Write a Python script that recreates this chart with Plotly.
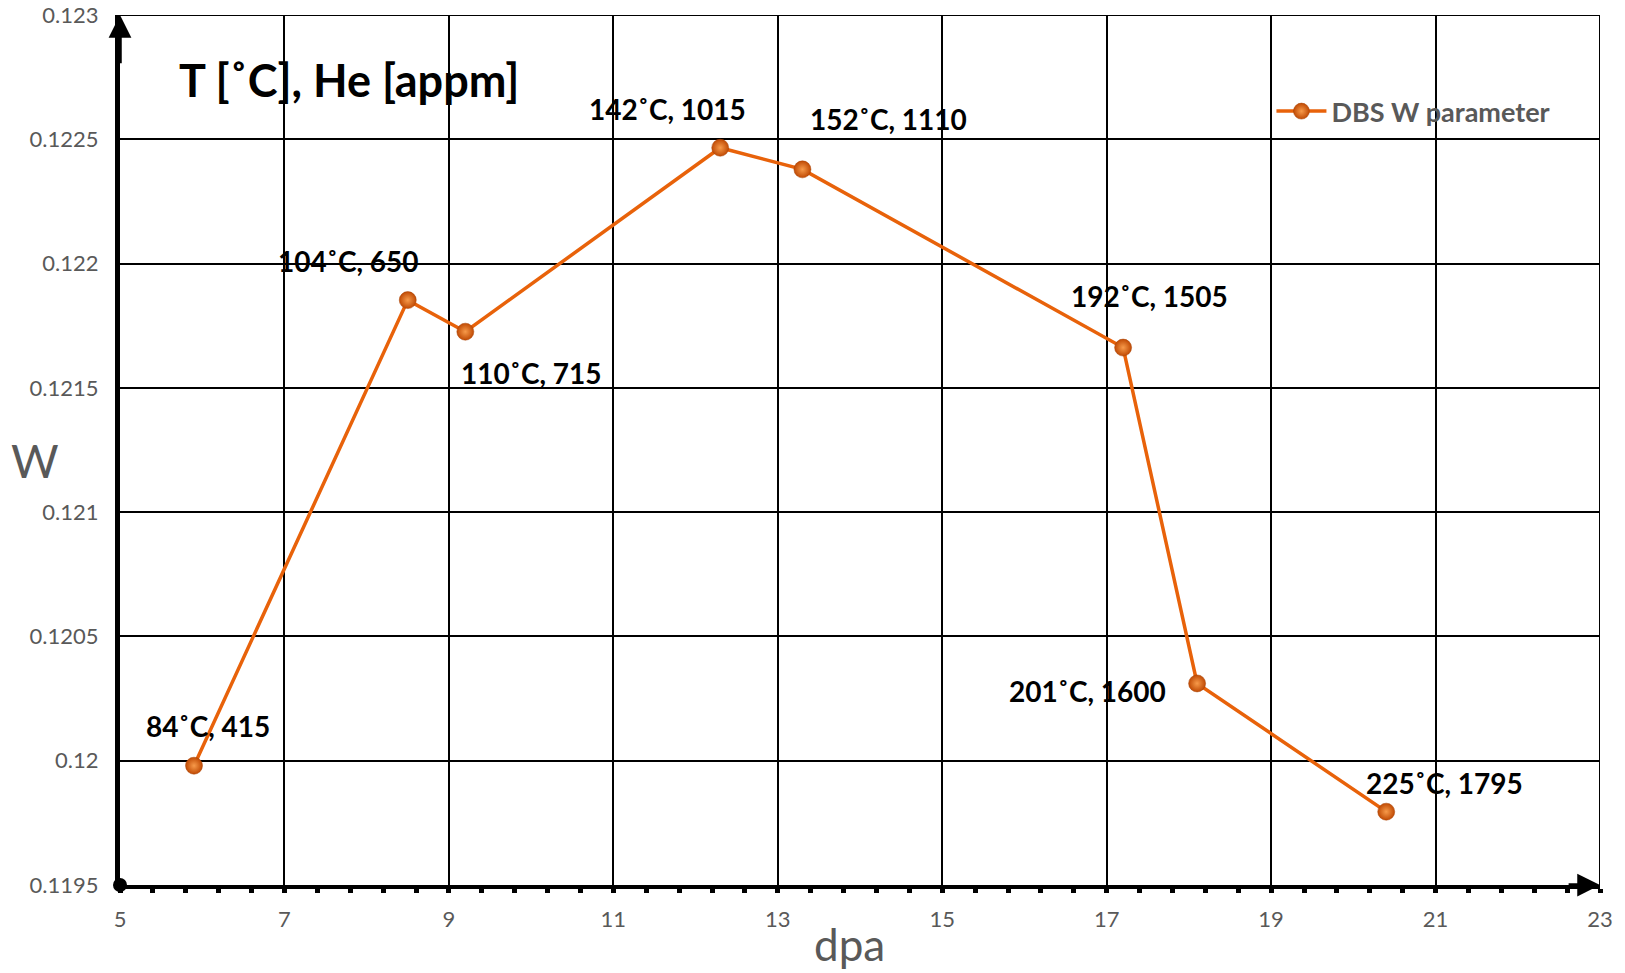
import plotly.graph_objects as go

# DBS W parameter versus damage dose
dpa = [5.9, 8.5, 9.2, 12.3, 13.3, 17.2, 18.1, 20.4]
w_param = [0.11998, 0.121853, 0.121726, 0.122466, 0.122379, 0.121662, 0.120311, 0.119795]
temp_c = [84, 104, 110, 142, 152, 192, 201, 225]
he_appm = [415, 650, 715, 1015, 1110, 1505, 1600, 1795]

x_ticks = [5, 7, 9, 11, 13, 15, 17, 19, 21, 23]
y_ticks = [0.1195, 0.12, 0.1205, 0.121, 0.1215, 0.122, 0.1225, 0.123]
y_ticktext = ["0.1195", "0.12", "0.1205", "0.121", "0.1215", "0.122", "0.1225", "0.123"]

# label offsets (pixels) from each point
label_dx = [14, -59, 66, -53, 86, 26, -110, 58]
label_dy = [40, 39, -41, 39, 50, 52, -8, 29]

FONT = "Lato, 'Open Sans', sans-serif"
GRAY = "#595959"
ORANGE = "#E8620A"

fig = go.Figure()

fig.add_trace(go.Scatter(
    x=dpa, y=w_param, mode="lines+markers", name="DBS W parameter",
    line=dict(color=ORANGE, width=3.5),
    marker=dict(size=17, color="#C04A04",
                gradient=dict(type="radial", color="#F79A4A"),
                line=dict(color="#A84204", width=0.5)),
    cliponaxis=False,
))

# origin dot
fig.add_trace(go.Scatter(
    x=[x_ticks[0]], y=[y_ticks[0]], mode="markers", showlegend=False,
    marker=dict(size=14, color="black"), cliponaxis=False, hoverinfo="skip",
))

annotations = []
for x, y, t, h, dx, dy in zip(dpa, w_param, temp_c, he_appm, label_dx, label_dy):
    annotations.append(dict(
        x=x, y=y, xref="x", yref="y", text=f"{t}˚C, {h}", showarrow=False,
        xshift=dx, yshift=dy,
        font=dict(family=FONT, size=28, color="black", weight="bold"),
    ))

annotations.append(dict(
    x=0.0385, y=0.925, xref="paper", yref="paper", xanchor="left", yanchor="middle",
    text="T [˚C], He [appm]", showarrow=False,
    font=dict(family=FONT, size=45, color="black", weight="bold"),
))

# axis arrows
annotations.append(dict(
    x=23, y=0.1195, ax=22.6, ay=0.1195, xref="x", yref="y", axref="x", ayref="y",
    text="", showarrow=True, arrowhead=2, arrowsize=1.3, arrowwidth=3.5, arrowcolor="black",
))
annotations.append(dict(
    x=5, y=0.123, ax=5, ay=0.1228, xref="x", yref="y", axref="x", ayref="y",
    text="", showarrow=True, arrowhead=2, arrowsize=1.3, arrowwidth=3.5, arrowcolor="black",
))

# axis titles
annotations.append(dict(
    x=-0.0574, y=0.4885, xref="paper", yref="paper", text="W", showarrow=False,
    xanchor="center", yanchor="middle",
    font=dict(family=FONT, size=46, color=GRAY),
))
annotations.append(dict(
    x=0.493, y=-0.068, xref="paper", yref="paper", text="dpa", showarrow=False,
    xanchor="center", yanchor="middle",
    font=dict(family=FONT, size=44, color=GRAY),
))

fig.update_layout(
    width=1625, height=973,
    margin=dict(l=120, r=25, t=15, b=88, autoexpand=False),
    paper_bgcolor="white", plot_bgcolor="white",
    annotations=annotations,
    showlegend=True,
    legend=dict(
        x=0.778, y=0.889, xanchor="left", yanchor="middle",
        bgcolor="rgba(0,0,0,0)", itemwidth=50,
        font=dict(family=FONT, size=27, color=GRAY, weight="bold"),
    ),
    shapes=[
        dict(type="line", xref="x", yref="y", x0=5, x1=23, y0=0.123, y1=0.123,
             line=dict(color="black", width=2)),
        dict(type="line", xref="x", yref="y", x0=23, x1=23, y0=0.1195, y1=0.123,
             line=dict(color="black", width=2)),
    ],
)

fig.update_xaxes(
    range=[5, 23], tickvals=x_ticks, ticks="", automargin=False,
    showgrid=True, gridcolor="black", gridwidth=2,
    showline=True, linecolor="black", linewidth=4, zeroline=False,
    minor=dict(dtick=0.4, tick0=5, ticks="outside", ticklen=4, tickwidth=5,
               tickcolor="black", showgrid=False),
    ticklabelstandoff=12,
    tickfont=dict(family=FONT, size=22, color=GRAY),
)
fig.update_yaxes(
    range=[0.1195, 0.123], tickvals=y_ticks, ticktext=y_ticktext, ticks="", automargin=False,
    showgrid=True, gridcolor="black", gridwidth=2,
    showline=True, linecolor="black", linewidth=5, zeroline=False,
    ticklabelstandoff=12,
    tickfont=dict(family=FONT, size=22, color=GRAY),
)

fig.write_html("out.html")
